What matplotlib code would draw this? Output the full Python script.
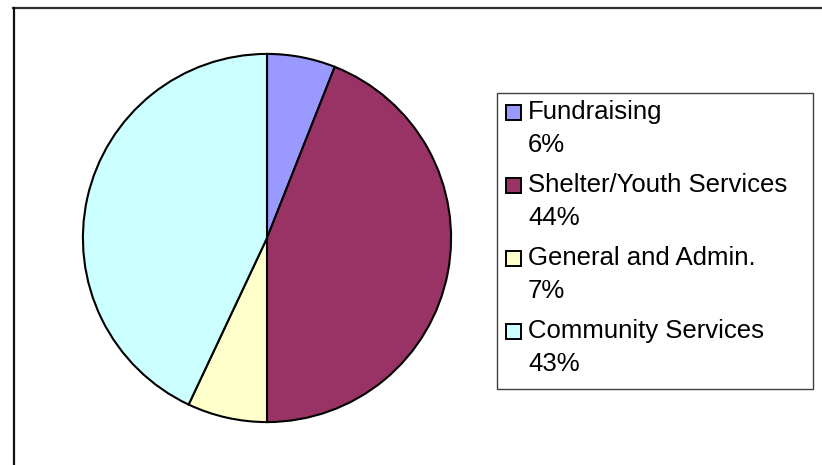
import matplotlib
matplotlib.use("Agg")
import matplotlib.pyplot as plt
from matplotlib.patches import Rectangle
from matplotlib.lines import Line2D

categories = ["Fundraising", "Shelter/Youth Services", "General and Admin.", "Community Services"]
shares = [6, 44, 7, 43]
colors = ["#9999FF", "#993366", "#FFFFCC", "#CCFFFF"]

plt.rcParams['font.family'] = ['Liberation Sans', 'DejaVu Sans']

W, H = 822, 465
fig = plt.figure(figsize=(W / 100, H / 100), dpi=100)
fig.patch.set_facecolor('white')


def fx(px):
    return px / W


def fy(py):
    return 1 - py / H


# outer chart frame (cut off at right and bottom)
fig.add_artist(Line2D([fx(13), fx(W)], [fy(8.5), fy(8.5)], color='#303030', lw=1.6))
fig.add_artist(Line2D([fx(13.5), fx(13.5)], [fy(8), fy(H)], color='#101010', lw=1.6))

# pie
cx, cy, r = 267, 238, 185
ax = fig.add_axes([fx(cx - r), fy(cy + r), (2 * r) / W, (2 * r) / H])
ax.pie(shares, colors=colors, startangle=90, counterclock=False,
       wedgeprops=dict(edgecolor='black', linewidth=1.5))
ax.set_xlim(-1.005, 1.005)
ax.set_ylim(-1.005, 1.005)
ax.axis('off')

# legend box
lx0, ly0, lx1, ly1 = 497, 93, 813, 389
fig.add_artist(Rectangle((fx(lx0), fy(ly1)), fx(lx1) - fx(lx0), fy(ly0) - fy(ly1),
                         transform=fig.transFigure, facecolor='white',
                         edgecolor='#404040', lw=1.0))

row0 = 112
step = 73
for i, (name, val, col) in enumerate(zip(categories, shares, colors)):
    yc = row0 + i * step
    fig.add_artist(Rectangle((fx(505.5), fy(yc + 8)), 15 / W, 15 / H,
                             transform=fig.transFigure, facecolor=col,
                             edgecolor='black', lw=1.4))
    fig.text(fx(528), fy(yc), name, fontsize=18.5, ha='left', va='center')
    fig.text(fx(528), fy(yc + 32.5), "{}%".format(val), fontsize=18.5, ha='left', va='center')

fig.savefig('out.png', dpi=100)
